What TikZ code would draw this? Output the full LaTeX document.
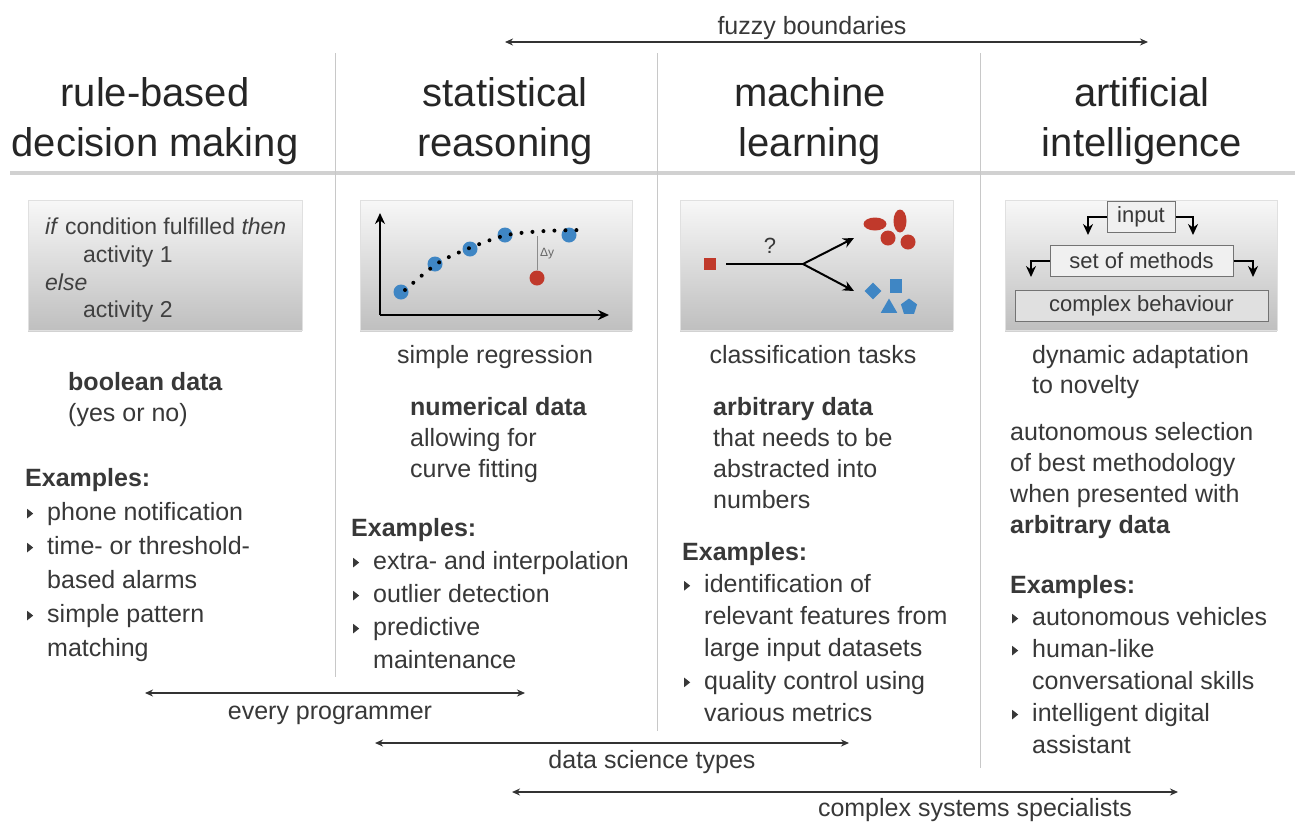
\documentclass[tikz,border=0pt]{standalone}
\usepackage{fontspec}
\setmainfont{Liberation Sans}
\usetikzlibrary{arrows.meta}
\usetikzlibrary{shadows}
\usetikzlibrary{shapes.geometric}

\definecolor{txtgray}{HTML}{383838}
\definecolor{ptblue}{HTML}{3F86C4}
\definecolor{ptred}{HTML}{C0392B}
\definecolor{linegray}{HTML}{C8C8C8}

\newcommand\itm{\makebox[22pt][l]{\hspace{2pt}\tikz[baseline=0pt]\fill[txtgray] (0pt,2pt)--(0pt,11.5pt)--(6pt,6.75pt)--cycle;}}
\newcommand\ind{\hspace*{22pt}}

\tikzset{
  headline/.style={font=\fontsize{40}{50}\selectfont, text=black!85, align=center, anchor=north, inner sep=0pt},
  bodytext/.style={font=\fontsize{25}{33}\selectfont, text=txtgray, align=left, anchor=north west, inner sep=0pt},
  desctext/.style={bodytext, font=\fontsize{25}{31}\selectfont},
  spanlabel/.style={font=\fontsize{25}{25}\selectfont, text=txtgray, anchor=base, inner sep=0pt},
  panelbox/.style={draw=black!12, top color=black!3, bottom color=black!25, drop shadow={opacity=0.35, shadow xshift=0pt, shadow yshift=-2pt}},
  innerbox/.style={draw=black!55, line width=1pt, fill=black!6, font=\fontsize{22}{22}\selectfont, text=txtgray, inner sep=0pt, minimum height=31pt},
  spanarrow/.style={{Stealth[length=8pt,width=7pt]}-{Stealth[length=8pt,width=7pt]}, line width=1.6pt, black!80},
  colsep/.style={linegray, line width=1pt},
  ptdot/.style={circle, fill=ptblue, inner sep=0pt, minimum size=15pt},
  blackarrow/.style={-{Stealth[length=11pt,width=10pt]}, line width=2pt},
}

\begin{document}
\begin{tikzpicture}[x=1pt, y=-1pt]
  \path[use as bounding box, fill=white] (0,0) rectangle (1295,823);

  % headings
  \node[headline] (t-rule) at (155,77) {rule-based\\decision making};
  \node[headline] (t-stat) at (505,77) {statistical\\reasoning};
  \node[headline] (t-ml) at (810,77) {machine\\learning};
  \node[headline] (t-ai) at (1142,77) {artificial\\intelligence};

  \draw[black!18, line width=3.5pt] (10,173) -- (1295,173);
  \draw[colsep] (335,53) -- (335,677);
  \draw[colsep] (657,53) -- (657,731);
  \draw[colsep] (980,53) -- (980,768);

  \coordinate (fz-l) at (505,42);
  \coordinate (fz-r) at (1148,42);
  \draw[spanarrow] (fz-l) -- (fz-r);
  \node[spanlabel] (fz) at (812,34) {fuzzy boundaries};

  % panels
  \path[panelbox] (28,200) rectangle (302,330);
  \path[panelbox] (360,200) rectangle (632,330);
  \path[panelbox] (680,200) rectangle (953,330);
  \path[panelbox] (1005,200) rectangle (1277,330);

  % rule-based
  \node[bodytext, font=\fontsize{23}{27.7}\selectfont, text=black!75] (code) at (45,218)
    {\textit{if} condition fulfilled \textit{then}\\\hspace*{38pt}activity 1\\\textit{else}\\\hspace*{38pt}activity 2};

  % regression
  \coordinate (o) at (380,315);
  \coordinate (ytop) at (380,213);
  \coordinate (xend) at (609,315);
  \draw[blackarrow] (o) -- (ytop);
  \draw[blackarrow] (o) -- (xend);
  \foreach \x/\y [count=\i] in {401/292, 435/264, 470/249, 505/235, 569/235}
    \node[ptdot] (b\i) at (\x,\y) {};
  \node[ptdot, fill=ptred] (out) at (537,278) {};
  \draw[line width=4pt, line cap=round, dash pattern=on 0pt off 11pt]
    plot[smooth] coordinates {(405,290) (438,263) (472,247) (507,235) (545,231) (583,230)};
  \coordinate (fit) at (537,236);
  \draw[black!45, line width=1pt] (fit) -- (out);
  \node[font=\fontsize{12}{12}\selectfont, text=black!60, anchor=west, inner sep=1pt] (dy) at (539,254) {Δy};

  % classification
  \node[fill=ptred, minimum size=12pt, inner sep=0pt] (q) at (710,264) {};
  \coordinate (fork) at (803,264);
  \coordinate (up) at (854,238);
  \coordinate (dn) at (854,291);
  \draw[line width=2pt, shorten <=10pt] (q) -- (fork);
  \draw[blackarrow] (fork) -- (up);
  \draw[blackarrow] (fork) -- (dn);
  \node[font=\fontsize{22}{22}\selectfont, text=txtgray] (qm) at (770,246) {?};
  \node[ellipse, fill=ptred, minimum width=23pt, minimum height=13pt, inner sep=0pt] (r1) at (875,224) {};
  \node[ellipse, fill=ptred, minimum width=13pt, minimum height=23pt, inner sep=0pt] (r2) at (900,221) {};
  \node[circle, fill=ptred, minimum size=15pt, inner sep=0pt] (r3) at (888,238) {};
  \node[circle, fill=ptred, minimum size=15pt, inner sep=0pt] (r4) at (908,242) {};
  \node[diamond, fill=ptblue, minimum size=17pt, inner sep=0pt] (s1) at (873,291) {};
  \node[rectangle, fill=ptblue, minimum width=12pt, minimum height=14pt, inner sep=0pt] (s2) at (896,286) {};
  \node[regular polygon, regular polygon sides=3, fill=ptblue, minimum size=19pt, inner sep=0pt] (s3) at (889,308) {};
  \node[regular polygon, regular polygon sides=5, fill=ptblue, minimum size=17pt, inner sep=0pt] (s4) at (909,307) {};

  % artificial intelligence
  \node[innerbox, minimum width=68pt] (inp) at (1141,217) {input};
  \node[innerbox, minimum width=183pt] (meth) at (1141.5,261) {set of methods};
  \node[innerbox, minimum width=253pt, fill=black!12] (cplx) at (1141.5,306) {complex behaviour};
  \coordinate (a1) at (1088,235);
  \coordinate (a2) at (1193,235);
  \coordinate (a3) at (1031,277);
  \coordinate (a4) at (1253,277);
  \draw[blackarrow] (inp.west) -| (a1);
  \draw[blackarrow] (inp.east) -| (a2);
  \draw[blackarrow] (meth.west) -| (a3);
  \draw[blackarrow] (meth.east) -| (a4);

  % column texts
  \node[desctext] (c1-data) at (68,372) {\textbf{boolean data}\\(yes or no)};
  \node[bodytext, font=\fontsize{25}{34}\selectfont] (c1-ex) at (25,468)
    {\textbf{Examples:}\\\itm phone notification\\\itm time- or threshold-\\\ind based alarms\\\itm simple pattern\\\ind matching};

  \node[bodytext, anchor=north] (c2-sub) at (495,345) {simple regression};
  \node[desctext] (c2-data) at (410,397) {\textbf{numerical data}\\allowing for\\curve fitting};
  \node[bodytext] (c2-ex) at (351,518)
    {\textbf{Examples:}\\\itm extra- and interpolation\\\itm outlier detection\\\itm predictive\\\ind maintenance};

  \node[bodytext, anchor=north] (c3-sub) at (813,345) {classification tasks};
  \node[desctext] (c3-data) at (713,397) {\textbf{arbitrary data}\\that needs to be\\abstracted into\\numbers};
  \node[bodytext, font=\fontsize{25}{32.2}\selectfont] (c3-ex) at (682,542)
    {\textbf{Examples:}\\\itm identification of\\\ind relevant features from\\\ind large input datasets\\\itm quality control using\\\ind various metrics};

  \node[desctext, font=\fontsize{25}{30}\selectfont] (c4-sub) at (1032,345) {dynamic adaptation\\to novelty};
  \node[desctext] (c4-sel) at (1010,422) {autonomous selection\\of best methodology\\when presented with\\\textbf{arbitrary data}};
  \node[bodytext, font=\fontsize{25}{32}\selectfont] (c4-ex) at (1010,575)
    {\textbf{Examples:}\\\itm autonomous vehicles\\\itm human-like\\\ind conversational skills\\\itm intelligent digital\\\ind assistant};

  % who does it
  \coordinate (ep-l) at (145,693);
  \coordinate (ep-r) at (525,693);
  \draw[spanarrow] (ep-l) -- (ep-r);
  \node[spanlabel] (ep) at (330,719) {every programmer};
  \coordinate (ds-l) at (375,743);
  \coordinate (ds-r) at (849,743);
  \draw[spanarrow] (ds-l) -- (ds-r);
  \node[spanlabel] (ds) at (652,768) {data science types};
  \coordinate (cs-l) at (512,792);
  \coordinate (cs-r) at (1178,792);
  \draw[spanarrow] (cs-l) -- (cs-r);
  \node[spanlabel] (cs) at (975,816) {complex systems specialists};
\end{tikzpicture}
\end{document}
